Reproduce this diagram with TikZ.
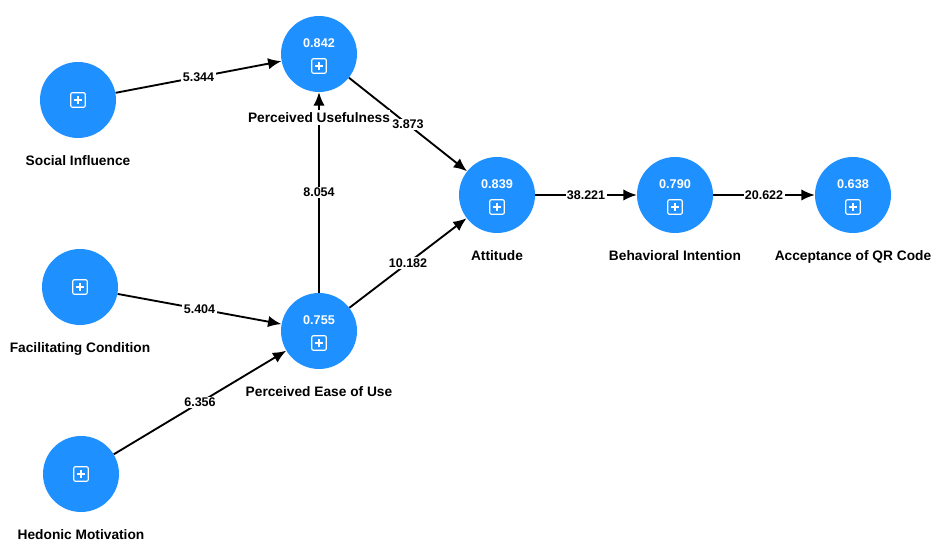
\documentclass[tikz,border=0pt]{standalone}
\usepackage{fontspec}
\setmainfont{Liberation Sans}
\usepackage{tikz}
\usetikzlibrary{arrows.meta}
\usetikzlibrary{positioning}
\definecolor{plsblue}{RGB}{30,144,255}
\tikzset{construct/.style = {circle, fill=plsblue, minimum size=57pt, inner sep=0}}
\tikzset{cname/.style = {font=\fontsize{10.3}{12}\selectfont\bfseries, inner sep=0, below=13pt of #1}}
\tikzset{rsq/.style = {font=\fontsize{9.5}{11}\selectfont\bfseries, text=white, inner sep=0}}
\tikzset{coef/.style = {font=\fontsize{9.4}{11}\selectfont\bfseries, fill=white, inner sep=1pt}}
\tikzset{link/.style = {draw, line width=1.4pt, -{Latex[length=10pt,width=8.5pt]}}}
\tikzset{plusicon/.pic = {\draw [white, line width=0.9pt, rounded corners=1.5pt] (-5.5pt,-5.5pt) rectangle (5.5pt,5.5pt);
                          \draw [white, line width=0.9pt] (-3pt,0) -- (3pt,0) (0,-3pt) -- (0,3pt);}}

\begin{document}
\begin{tikzpicture}[x=0.75pt, y=-0.75pt]
      \useasboundingbox (0,0) rectangle (933,541);
      % constructs
      \node [construct] (si) at (78,100) {};
      \node [construct] (pu) at (319,54) {};
      \node [construct] (fc) at (80,287) {};
      \node [construct] (peou) at (319,331) {};
      \node [construct] (hm) at (81,474) {};
      \node [construct] (att) at (497,195) {};
      \node [construct] (bi) at (675,195) {};
      \node [construct] (aqr) at (853,195) {};
      \foreach \c in {si,fc,hm}
        \pic at (\c) {plusicon};
      \foreach \c/\r in {pu/0.842,peou/0.755,att/0.839,bi/0.790,aqr/0.638} {
        \node [rsq] at ([yshift=8.5pt]\c.center) {\r};
        \pic at ([yshift=-9pt]\c.center) {plusicon};
      }
      % paths
      \draw [link] (si) -- node [coef] {5.344} (pu);
      \draw [link] (fc) -- node [coef] {5.404} (peou);
      \draw [link] (hm) -- node [coef] {6.356} (peou);
      \draw [link] (peou) -- node [coef] {8.054} (pu);
      \draw [link] (peou) -- node [coef] {10.182} (att);
      \draw [link] (pu) -- node [coef] {3.873} (att);
      \draw [link] (att) -- node [coef] {38.221} (bi);
      \draw [link] (bi) -- node [coef] {20.622} (aqr);
      % names
      \node [cname=si, fill=white] {Social Influence};
      \node [cname=pu, fill=white, inner ysep=2pt] {Perceived Usefulness};
      \node [cname=fc] {Facilitating Condition};
      \node [cname=peou] {Perceived Ease of Use};
      \node [cname=hm] {Hedonic Motivation};
      \node [cname=att] {Attitude};
      \node [cname=bi] {Behavioral Intention};
      \node [cname=aqr] {Acceptance of QR Code};
    \end{tikzpicture}
\end{document}
